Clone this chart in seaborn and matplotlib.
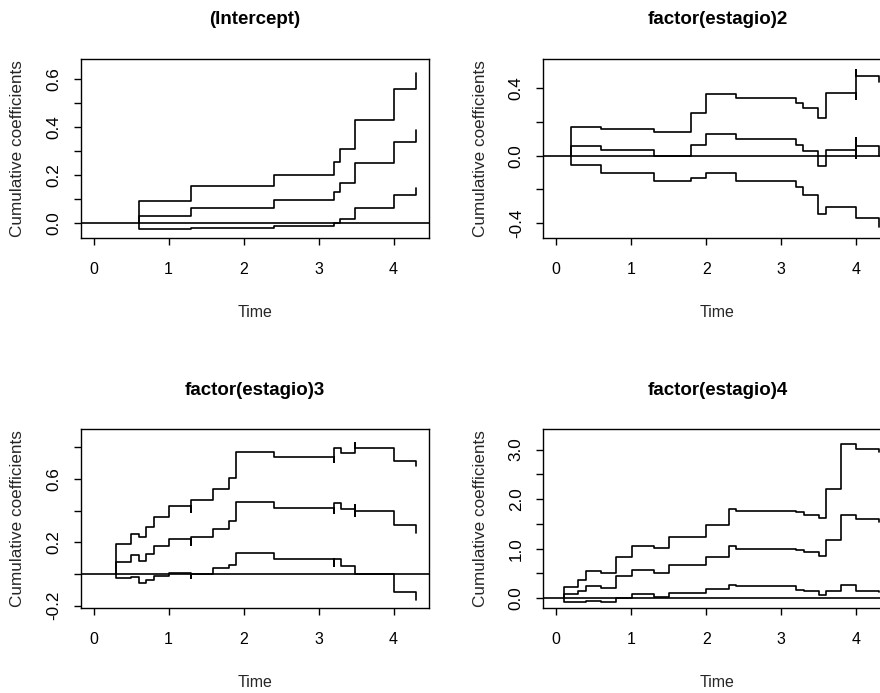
import numpy as np
import pandas as pd
import matplotlib
matplotlib.use("Agg")
import matplotlib.pyplot as plt
import seaborn as sns

# Cumulative regression coefficients of an additive hazards fit, with
# pointwise confidence bands. Each curve starts at zero at its first jump
# time; repeated times draw the short vertical spikes at tied event times.
titles = ["(Intercept)", "factor(estagio)2", "factor(estagio)3", "factor(estagio)4"]

time_intercept = [0.6, 0.6, 1.3, 2.4, 3.2, 3.29, 3.49, 4.0, 4.3]
upper_intercept = [0, 0.089, 0.151, 0.199, 0.254, 0.308, 0.429, 0.557, 0.624]
coef_intercept = [0, 0.029, 0.060, 0.094, 0.126, 0.165, 0.247, 0.336, 0.388]
lower_intercept = [0, -0.028, -0.022, -0.013, -0.003, 0.015, 0.061, 0.117, 0.146]

time_est2 = [0.2, 0.2, 0.6, 1.3, 1.8, 2.0, 2.4, 3.2, 3.29, 3.49, 3.6, 4.0, 4.0, 4.0, 4.3]
upper_est2 = [0, 0.172, 0.158, 0.143, 0.251, 0.364, 0.339, 0.309, 0.283, 0.220, 0.370,
              0.337, 0.508, 0.473, 0.436]
coef_est2 = [0, 0.055, 0.034, -0.002, 0.063, 0.127, 0.097, 0.063, 0.028, -0.061, 0.034,
             0.103, -0.016, 0.058, 0.0]
lower_est2 = [0, -0.055, -0.101, -0.149, -0.133, -0.101, -0.149, -0.184, -0.234, -0.345,
              -0.303, -0.368, -0.368, -0.368, -0.42]

time_est3 = [0.3, 0.3, 0.5, 0.6, 0.7, 0.8, 1.0, 1.3, 1.3, 1.59, 1.8, 1.9, 2.4, 3.2, 3.2,
             3.3, 3.49, 3.49, 3.49, 4.0, 4.3]
upper_est3 = [0, 0.187, 0.253, 0.236, 0.295, 0.362, 0.429, 0.394, 0.467, 0.535, 0.608,
              0.768, 0.741, 0.705, 0.794, 0.766, 0.825, 0.825, 0.794, 0.716, 0.682]
coef_est3 = [0, 0.076, 0.118, 0.084, 0.128, 0.177, 0.219, 0.183, 0.232, 0.284, 0.337,
             0.453, 0.415, 0.383, 0.446, 0.410, 0.436, 0.366, 0.398, 0.309, 0.257]
lower_est3 = [0, -0.025, -0.017, -0.059, -0.036, -0.015, 0.008, -0.027, 0.0, 0.036, 0.059,
              0.135, 0.093, 0.05, 0.093, 0.053, 0.0, 0.0, 0.0, -0.112, -0.164]

time_est4 = [0.1, 0.1, 0.29, 0.4, 0.6, 0.8, 1.01, 1.3, 1.5, 2.0, 2.3, 2.4, 3.2, 3.3, 3.5,
             3.6, 3.8, 4.0, 4.3]
upper_est4 = [0, 0.223, 0.378, 0.54, 0.507, 0.838, 1.047, 1.014, 1.236, 1.473, 1.797,
              1.764, 1.736, 1.682, 1.628, 2.196, 3.108, 3.014, 2.946]
coef_est4 = [0, 0.081, 0.155, 0.25, 0.216, 0.439, 0.561, 0.507, 0.669, 0.838, 1.047, 1.0,
             0.966, 0.939, 0.858, 1.182, 1.682, 1.601, 1.54]
lower_est4 = [0, -0.081, -0.081, -0.054, -0.081, 0.0, 0.088, 0.02, 0.108, 0.182, 0.27,
              0.243, 0.176, 0.155, 0.074, 0.155, 0.27, 0.155, 0.12]

x_ticks = [0, 1, 2, 3, 4]
y_ticks = [
    [0.0, 0.1, 0.2, 0.3, 0.4, 0.5, 0.6],
    [-0.4, -0.2, 0.0, 0.2, 0.4],
    [-0.2, 0.0, 0.2, 0.4, 0.6, 0.8],
    [0.0, 0.5, 1.0, 1.5, 2.0, 2.5, 3.0],
]
y_tick_labels = [
    ["0.0", "", "0.2", "", "0.4", "", "0.6"],
    ["-0.4", "", "0.0", "", "0.4"],
    ["-0.2", "", "0.2", "", "0.6", ""],
    ["0.0", "", "1.0", "", "2.0", "", "3.0"],
]
y_limits = [(-0.064, 0.682), (-0.487, 0.572), (-0.217, 0.914), (-0.203, 3.41)]
x_limits = (-0.172, 4.472)

panels = [
    (time_intercept, upper_intercept, coef_intercept, lower_intercept),
    (time_est2, upper_est2, coef_est2, lower_est2),
    (time_est3, upper_est3, coef_est3, lower_est3),
    (time_est4, upper_est4, coef_est4, lower_est4),
]

sns.set_theme(style="ticks")
plt.rcParams["font.family"] = ["Liberation Sans", "DejaVu Sans"]
plt.rcParams["axes.edgecolor"] = "black"
plt.rcParams["axes.linewidth"] = 1.0
plt.rcParams["text.color"] = "black"

W, H = 880, 693
fig = plt.figure(figsize=(W / 100, H / 100), dpi=100)
fig.patch.set_facecolor("white")

# axes boxes in pixels: left, top, width, height
boxes = [(80.7, 59, 348.3, 179), (543.3, 59, 348.3, 179),
         (80.7, 429.3, 348.3, 179), (543.3, 429.3, 348.3, 179)]

for i, (times, upper, coef, lower) in enumerate(panels):
    left, top, w, h = boxes[i]
    ax = fig.add_axes([left / W, 1 - (top + h) / H, w / W, h / H])
    frames = []
    for band, vals in (("upper", upper), ("coef", coef), ("lower", lower)):
        frames.append(pd.DataFrame({"time": times, "value": vals, "band": band}))
    df = pd.concat(frames, ignore_index=True)
    sns.lineplot(data=df, x="time", y="value", units="band", estimator=None, sort=False,
                 color="black", linewidth=1.2, drawstyle="steps-post", legend=False, ax=ax)
    ax.axhline(0, color="black", linewidth=1.2)

    ax.set_xlim(*x_limits)
    ax.set_ylim(*y_limits[i])
    ax.set_xticks(x_ticks)
    ax.set_xticklabels([str(t) for t in x_ticks], fontsize=11.5)
    ax.set_yticks(y_ticks[i])
    ax.set_yticklabels(y_tick_labels[i], rotation=90, va="center", fontsize=12.3)
    ax.tick_params(axis="both", direction="out", length=5, width=1, color="black",
                   labelcolor="black")
    ax.tick_params(axis="x", pad=12)
    ax.tick_params(axis="y", pad=9)
    for s in ax.spines.values():
        s.set_visible(True)
        s.set_color("black")
        s.set_linewidth(1.0)
    ax.set_facecolor("white")
    ax.grid(False)

    ax.set_title(titles[i], fontsize=13.5, fontweight="bold", pad=25)
    ax.set_xlabel("Time", fontsize=11.5)
    ax.set_ylabel("Cumulative coefficients", fontsize=12.3)
    ax.xaxis.set_label_coords(0.5, -0.375)
    ax.yaxis.set_label_coords(-0.16, 0.5)

fig.savefig("out.png", dpi=100, facecolor="white")
